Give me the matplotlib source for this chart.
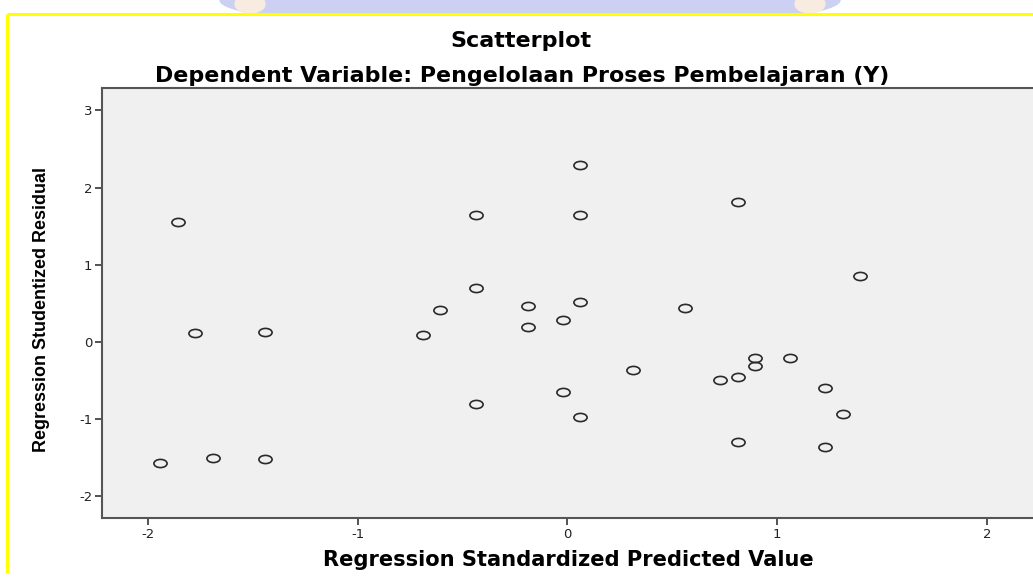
import numpy as np
import matplotlib
matplotlib.use('Agg')
import matplotlib.pyplot as plt
from matplotlib.path import Path
from matplotlib.transforms import Affine2D
from matplotlib.patches import Ellipse, Rectangle

pred_value = [-1.857, -1.775, -1.441, -0.607, -0.691, -1.941, -1.691, -1.441,
              0.060, -0.438, 0.060, 0.812, 1.397, -0.438, -0.189, 0.060,
              -0.022, -0.189, 0.562, 0.895, 0.895, 1.061, 0.311, 0.728,
              0.812, 1.230, 1.312, -0.438, -0.022, 0.060, 0.812, 1.230]
stud_resid = [1.55, 0.12, 0.125, 0.414, 0.087, -1.574, -1.497, -1.518,
              2.294, 1.639, 1.639, 1.815, 0.854, 0.703, 0.47, 0.521,
              0.285, 0.19, 0.44, -0.211, -0.306, -0.211, -0.362, -0.496,
              -0.448, -0.591, -0.927, -0.798, -0.647, -0.970, -1.298, -1.354]
x_ticks = [-2, -1, 0, 1, 2]
y_ticks = [-2, -1, 0, 1, 2, 3]

W, H = 1033, 578
wide = ['DejaVu Sans', 'Liberation Sans']
narrow = ['DejaVu Sans Condensed', 'Liberation Sans Narrow', 'Liberation Sans', 'DejaVu Sans']


def fx(px):
    return px / W


def fy(py):
    return 1 - py / H


fig = plt.figure(figsize=(W / 100, H / 100), dpi=100)
fig.patch.set_facecolor('white')

# faint page watermark above the yellow frame
deco = fig.add_axes([0, 0, 1, 1], zorder=-5)
deco.set_xlim(0, W)
deco.set_ylim(H, 0)
deco.axis('off')
deco.add_patch(Ellipse((530, 0), 620, 60, color='#ccd0f2'))
deco.add_patch(Ellipse((250, 4), 30, 18, color='#f8ece0'))
deco.add_patch(Ellipse((810, 4), 30, 18, color='#f8ece0'))
deco.add_patch(Rectangle((0, 14), W, H, color='white'))
# yellow frame
deco.plot([7, W + 5], [14, 14], color='#ffff00', lw=2.2, solid_capstyle='butt')
deco.plot([7, 7], [14, 573], color='#ffff00', lw=2.2, solid_capstyle='butt')

ax = fig.add_axes([fx(102), fy(518), fx(1035) - fx(102), fy(88) - fy(518)])
ax.set_facecolor('#f0f0f0')

ellipse = Path.unit_circle().transformed(Affine2D().scale(1.0, 0.62))
ax.plot(pred_value, stud_resid, linestyle='none', marker=ellipse,
        markersize=9.5, markerfacecolor='none', markeredgecolor='#2a2a2a',
        markeredgewidth=1.2)

ax.set_xlim(-2.22, 2.23)
ax.set_ylim(-2.28, 3.29)
ax.set_xticks(x_ticks)
ax.set_yticks(y_ticks)
ax.set_xticklabels([str(v) for v in x_ticks])
ax.set_yticklabels([str(v) for v in y_ticks])
ax.tick_params(direction='out', length=5, width=1.3, color='#444444',
               labelsize=9.5, labelcolor='#222222', pad=2)
for s in ax.spines.values():
    s.set_color('#555555')
    s.set_linewidth(1.5)

fig.text(fx(521), fy(41), 'Scatterplot', ha='center', va='center',
         fontsize=16, fontweight='bold', family=wide)
fig.text(fx(522), fy(76), 'Dependent Variable: Pengelolaan Proses Pembelajaran (Y)',
         ha='center', va='center', fontsize=15.9, fontweight='bold', family=wide)
fig.text(fx(568), fy(560), 'Regression Standardized Predicted Value',
         ha='center', va='center', fontsize=15.1, fontweight='bold', family=wide)
fig.text(fx(42), fy(310), 'Regression Studentized Residual', ha='center',
         va='center', rotation=90, fontsize=12.9, fontweight='bold', family=narrow)

fig.savefig('out.png', dpi=100)
